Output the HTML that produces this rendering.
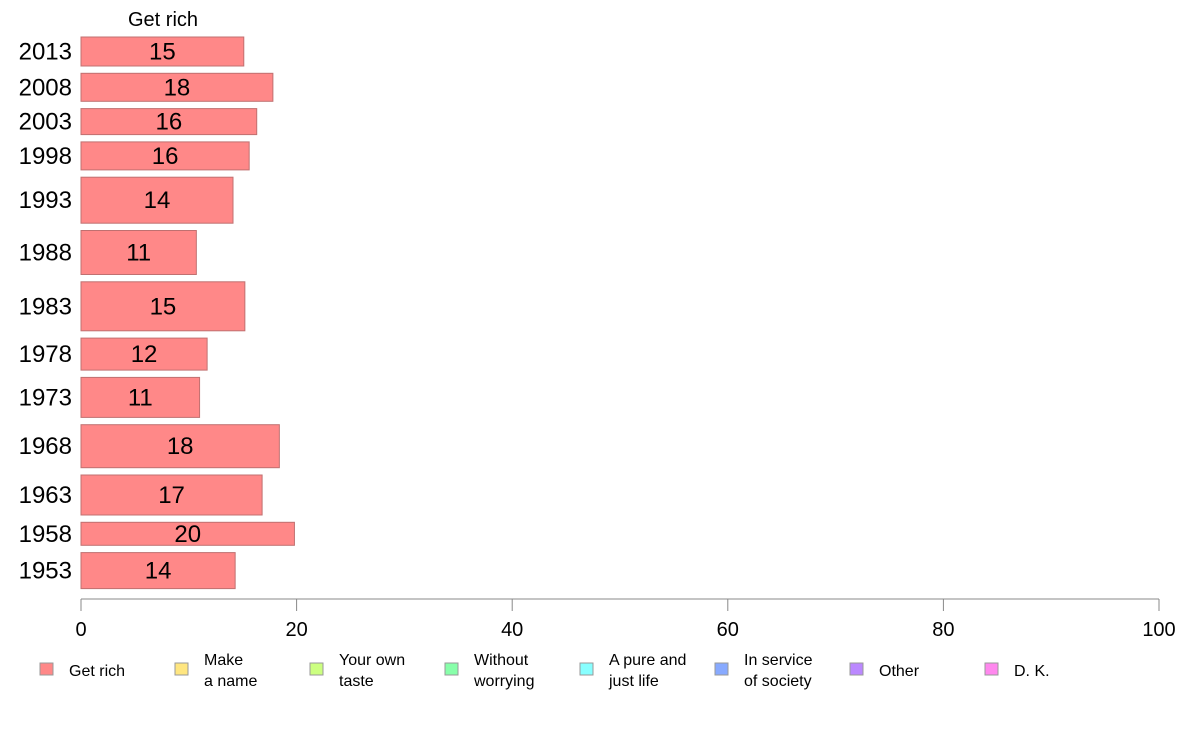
<!DOCTYPE html>
<html><head><meta charset="utf-8">
<style>
body{margin:0;background:#fff;font-family:"Liberation Sans",sans-serif;}
svg text{font-family:"Liberation Sans",sans-serif;}
</style></head>
<body>
<svg id="chart" width="1188" height="736" xmlns="http://www.w3.org/2000/svg">
<text x="163" y="26" font-size="20" text-anchor="middle">Get rich</text>
<g id="bars"></g>
<g id="axis"></g>
<g id="legend"></g>
</svg>
<script>
const years = ["2013","2008","2003","1998","1993","1988","1983","1978","1973","1968","1963","1958","1953"];
const values = [15.1,17.8,16.3,15.6,14.1,10.7,15.2,11.7,11.0,18.4,16.8,19.8,14.3];
const labels = ["15","18","16","16","14","11","15","12","11","18","17","20","14"];
const weights = [29,28,26,28,46,44,49,32,40,43,40,23,36];
const ticks = [0,20,40,60,80,100];
const legendItems = [["Get rich"],["Make","a name"],["Your own","taste"],["Without","worrying"],["A pure and","just life"],["In service","of society"],["Other"],["D. K."]];
const legendColors = ["#ff8888","#ffe680","#ccff80","#88ffaa","#88ffff","#88aaff","#bb88ff","#ff88ee"];

const NS="http://www.w3.org/2000/svg";
const x0=81,x1=1159,xmax=100;
const xs=v=>x0+(x1-x0)*v/xmax;
const gap=7.3, topY=37;
function mk(t,a){const e=document.createElementNS(NS,t);for(const k in a)e.setAttribute(k,a[k]);return e;}
const bars=document.getElementById('bars');
let yy=topY;
years.forEach((yr,i)=>{
  const h=weights[i];
  const r=mk('rect',{x:x0,y:yy,width:xs(values[i])-x0,height:h,fill:'#ff8888',stroke:'#c07070','stroke-width':1});
  
  
  bars.appendChild(r);
  const t=mk('text',{x:(x0+xs(values[i]))/2,y:yy+h/2+8,'font-size':24,'text-anchor':'middle'});
  t.textContent=labels[i];
  
  
  bars.appendChild(t);
  const yl=mk('text',{x:72,y:yy+h/2+8,'font-size':24,'text-anchor':'end'});
  yl.textContent=yr;
  
  
  bars.appendChild(yl);
  yy+=h+gap;
});
const axis=document.getElementById('axis');
axis.appendChild(mk('line',{x1:x0,x2:x1,y1:599,y2:599,stroke:'#888','stroke-width':1}));
ticks.forEach(v=>{
  axis.appendChild(mk('line',{x1:xs(v),x2:xs(v),y1:599,y2:611,stroke:'#888','stroke-width':1}));
  const t=mk('text',{x:xs(v),y:636,'font-size':20,'text-anchor':'middle'});
  t.textContent=v;
  
  
  axis.appendChild(t);
});
const leg=document.getElementById('legend');
legendItems.forEach((lines,i)=>{
  const lx=40+i*135;
  const g=mk('g',{});
  
  
  g.appendChild(mk('rect',{x:lx,y:663,width:13,height:12,fill:legendColors[i],stroke:'#999','stroke-width':1}));
  lines.forEach((ln,j)=>{
    const t=mk('text',{x:lx+29,y:lines.length===1?676:665+j*21,'font-size':16});
    t.textContent=ln;
    g.appendChild(t);
  });
  leg.appendChild(g);
});
</script>
</body></html>
